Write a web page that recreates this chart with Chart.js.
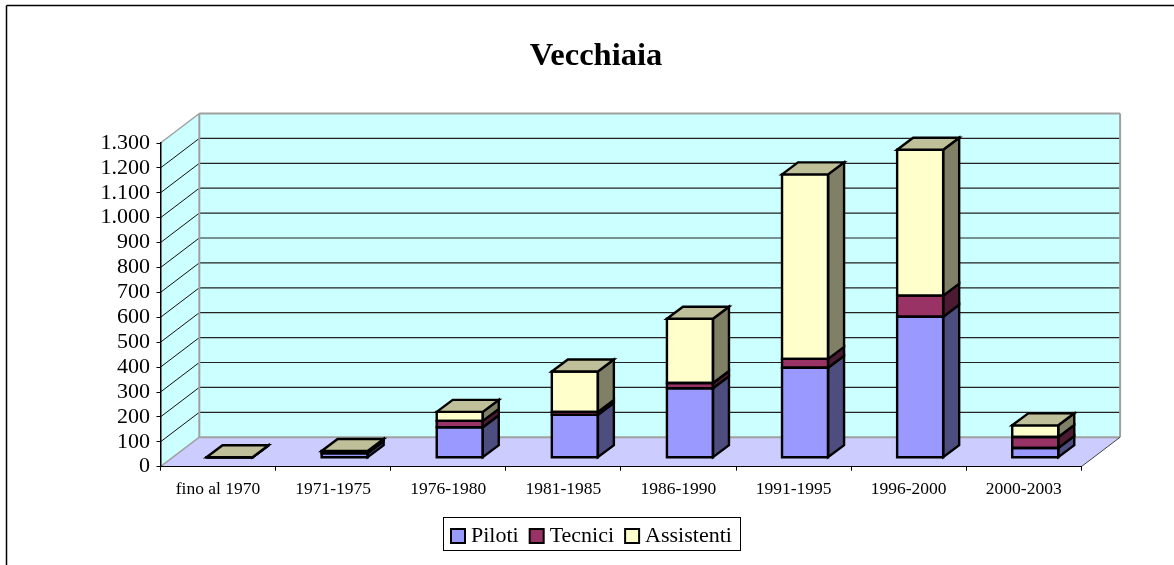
<!DOCTYPE html>
<html><head><meta charset="utf-8">
<style>html,body{margin:0;padding:0;background:#fff}canvas{display:block}</style>
<script src="https://cdn.jsdelivr.net/npm/chart.js@4/dist/chart.umd.min.js"></script>
</head><body><canvas id="c" width="1174" height="565"></canvas>
<script>
const categories = ['fino al 1970','1971-1975','1976-1980','1981-1985','1986-1990','1991-1995','1996-2000','2000-2003'];
const piloti     = [2, 18, 122, 172, 279, 361, 566, 39];
const tecnici    = [0, 8, 26, 12, 21, 36, 85, 44];
const assistenti = [0, 1, 36, 162, 258, 741, 586, 47];

const SERIF = '"Liberation Serif","Times New Roman",serif';
const faces = {
  front: ['#9999FF','#993366','#FFFFCC'],
  side:  ['#4D4D80','#4D1A33','#808066'],
  top:   '#BFBF99'
};
const WALL = {dx: 38.8, dy: -29.5};
const BAR  = {ox: 11.5, oy: -9, dx: 16, dy: -12};

function poly(ctx, pts, fill, stroke, lw){
  ctx.beginPath();
  pts.forEach((p,i)=> i ? ctx.lineTo(p[0],p[1]) : ctx.moveTo(p[0],p[1]));
  ctx.closePath();
  if(fill){ctx.fillStyle=fill;ctx.fill();}
  if(stroke){ctx.strokeStyle=stroke;ctx.lineWidth=lw;ctx.stroke();}
}
function seg(ctx,x1,y1,x2,y2,color,lw){
  ctx.beginPath();ctx.moveTo(x1,y1);ctx.lineTo(x2,y2);ctx.strokeStyle=color;ctx.lineWidth=lw;ctx.stroke();
}

const box3d = {
  id:'box3d',
  afterLayout(chart){
    const t = chart.titleBlock;
    t.left = 0; t.right = 1192; t.width = 1192;
    const h = t.height; t.top = 37; t.bottom = t.top + h;
    const l = chart.legend;
    const pad = l.options.labels.padding;
    l.left = 456 - pad; l.right = l.left + l.width;
    l.top = 525 - pad; l.bottom = l.top + l.height;
  },
  beforeDraw(chart){
    const ctx = chart.ctx, a = chart.chartArea, y = chart.scales.y;
    ctx.save();
    ctx.lineJoin='miter';
    seg(ctx,6.5,5.5,1174,5.5,'#000',1.5);
    seg(ctx,6.5,5.5,6.5,565,'#000',1.5);
    ctx.strokeStyle='#000';ctx.lineWidth=1;ctx.strokeRect(443.5,517.5,297,33);
    const L=a.left,R=a.right,T=a.top,B=a.bottom,dx=WALL.dx,dy=WALL.dy;
    poly(ctx,[[L,T],[L+dx,T+dy],[L+dx,B+dy],[L,B]],'#CCFFFF');
    poly(ctx,[[L+dx,T+dy],[R+dx,T+dy],[R+dx,B+dy],[L+dx,B+dy]],'#CCFFFF');
    poly(ctx,[[L,B],[L+dx,B+dy],[R+dx,B+dy],[R,B]],'#CCCCFF');
    y.ticks.forEach(tk=>{
      if(tk.value===0||tk.value===y.max) return;
      const py=y.getPixelForValue(tk.value);
      seg(ctx,L,py,L+dx,py+dy,'#111',1);
      seg(ctx,L+dx,py+dy,R+dx,py+dy,'#222',1.2);
    });
    const g='#A0A0A0';
    seg(ctx,L,T,L+dx,T+dy,g,1.5);
    seg(ctx,L,B,L+dx,B+dy,g,1.5);
    seg(ctx,L+dx,T+dy,L+dx,B+dy,g,2);
    seg(ctx,L+dx,T+dy,R+dx,T+dy,g,2);
    seg(ctx,R+dx,T+dy,R+dx,B+dy,g,2);
    seg(ctx,L+dx,B+dy,R+dx,B+dy,g,2);
    seg(ctx,R,B,R+dx,B+dy,'#444',1);
    ctx.restore();
  },
  beforeDatasetsDraw(chart){
    chart.ctx.save();
    chart.ctx.translate(BAR.ox,BAR.oy);
  },
  afterDatasetsDraw(chart){
    const ctx=chart.ctx;
    ctx.lineJoin='miter';
    const n=chart.data.datasets.length;
    for(let d=0;d<n;d++){
      chart.getDatasetMeta(d).data.forEach(el=>{
        const {x,y,base,width}=el.getProps(['x','y','base','width'],true);
        const xl=x-width/2,xr=x+width/2;
        poly(ctx,[[xr,y],[xr+BAR.dx,y+BAR.dy],[xr+BAR.dx,base+BAR.dy],[xr,base]],faces.side[d],'#000',2.4);
        poly(ctx,[[xl,y],[xr,y],[xr,base],[xl,base]],null,'#000',2.4);
        if(d===n-1){
          poly(ctx,[[xl,y],[xl+BAR.dx,y+BAR.dy],[xr+BAR.dx,y+BAR.dy],[xr,y]],faces.top,'#000',2.4);
        }
      });
    }
    ctx.restore();
  }
};

new Chart(document.getElementById('c'),{
  type:'bar',
  data:{labels:categories,datasets:[
    {label:'Piloti',data:piloti,backgroundColor:faces.front[0]},
    {label:'Tecnici',data:tecnici,backgroundColor:faces.front[1]},
    {label:'Assistenti',data:assistenti,backgroundColor:faces.front[2]}
  ]},
  plugins:[box3d],
  options:{
    responsive:false,animation:false,
    layout:{autoPadding:false,padding:{left:100,right:92.7,top:0,bottom:0}},
    datasets:{bar:{categoryPercentage:1,barPercentage:0.4,borderWidth:0,clip:false}},
    plugins:{
      tooltip:{enabled:false},
      title:{display:true,text:'Vecchiaia',color:'#000',font:{family:SERIF,size:32.5,weight:'bold'},padding:{top:0,bottom:104}},
      legend:{display:true,position:'bottom',align:'start',
        labels:{color:'#000',font:{family:SERIF,size:22},usePointStyle:true,pointStyle:'rect',boxWidth:4,boxHeight:14,padding:16,
          generateLabels(chart){
            return Chart.defaults.plugins.legend.labels.generateLabels(chart).map(it=>Object.assign(it,{strokeStyle:'#000',lineWidth:2,pointStyle:'rect'}));
          }}}
    },
    scales:{
      x:{stacked:true,offset:true,
        afterFit(s){s.height=50.3;},
        grid:{offset:true,drawOnChartArea:false,drawTicks:true,tickLength:4,color:'#000'},
        border:{display:true,color:'#000',width:1},
        ticks:{color:'#000',font:{family:SERIF,size:17.5},padding:8.5,maxRotation:0,autoSkip:false}},
      y:{stacked:true,min:0,max:1300,
        afterFit(s){s.width=60.5;},
        grid:{drawOnChartArea:false,drawTicks:true,tickLength:4,color:'#000'},
        border:{display:true,color:'#000',width:1.5},
        ticks:{stepSize:100,autoSkip:false,color:'#000',font:{family:SERIF,size:22},padding:6.5,
          callback:v=>String(v).replace(/\B(?=(\d{3})+$)/g,'.')}}
    }
  }
});
</script></body></html>
